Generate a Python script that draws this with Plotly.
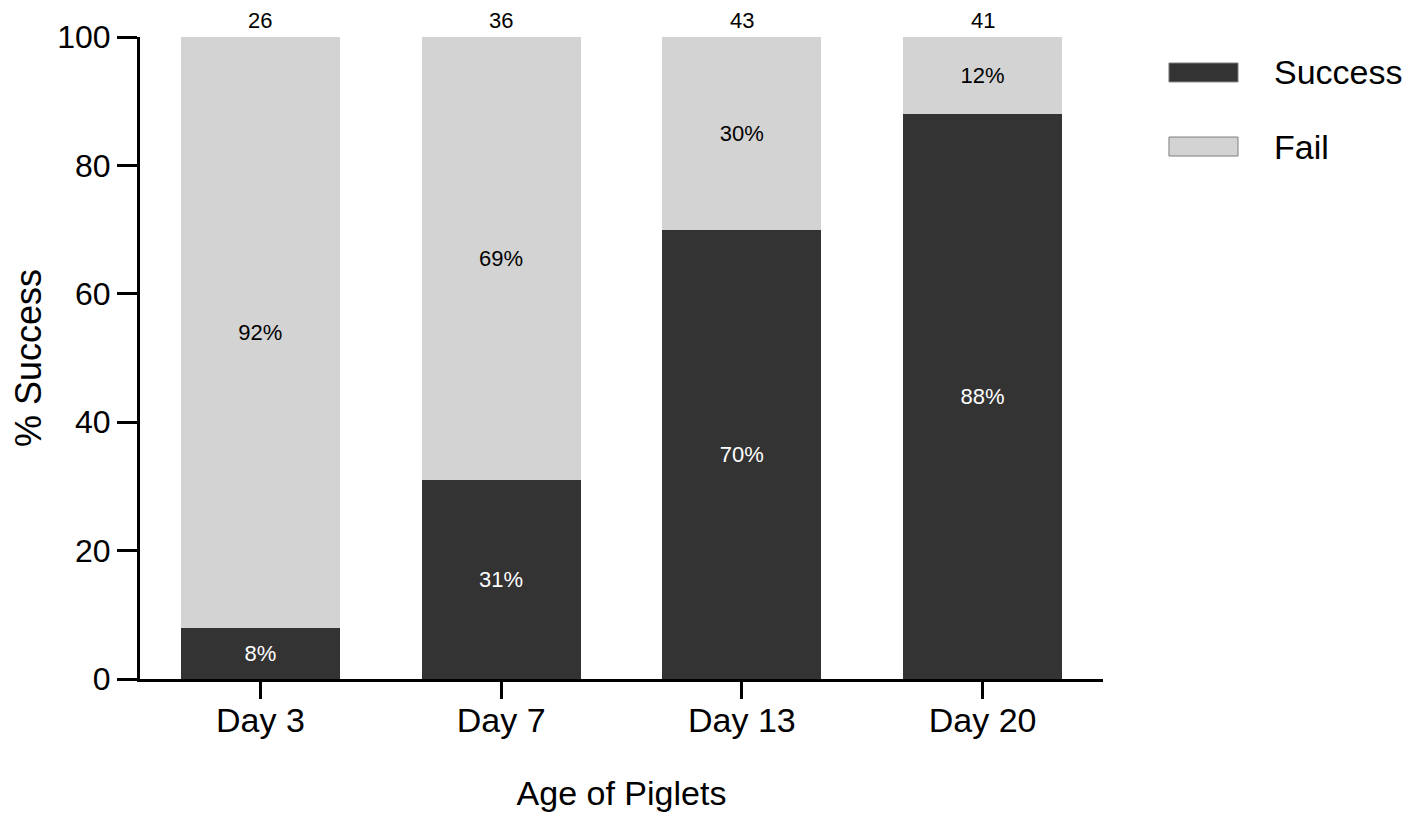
import plotly.graph_objects as go

days = ["Day 3", "Day 7", "Day 13", "Day 20"]
success = [8, 31, 70, 88]
fail = [92, 69, 30, 12]
n_piglets = [26, 36, 43, 41]

series_names = ["Success", "Fail"]
series_colors = ["#333333", "#d3d3d3"]
label_colors = ["white", "black"]

font_family = "Liberation Sans, Arial, sans-serif"

fig = go.Figure()

for name, vals, col, lcol in zip(series_names, [success, fail], series_colors, label_colors):
    fig.add_trace(go.Bar(x=days, y=vals, name=name, showlegend=False,
                         marker=dict(color=col, line=dict(width=0)),
                         text=[f"{v}%" for v in vals], textposition="inside",
                         insidetextanchor="middle", textangle=0,
                         textfont=dict(color=lcol, size=22, family=font_family)))

# sample sizes above each bar
for d, n in zip(days, n_piglets):
    fig.add_annotation(x=d, y=100, text=str(n), showarrow=False,
                       yanchor="bottom", yshift=2,
                       font=dict(size=22, color="black", family=font_family))

# legend drawn with wide swatches like the original figure
legend_rows = [(0.930, 0.9595), (0.8146, 0.8442)]
for name, col, (y0, y1) in zip(series_names, series_colors, legend_rows):
    fig.add_shape(type="rect", xref="paper", yref="paper",
                  x0=1.0685, x1=1.1402, y0=y0, y1=y1,
                  fillcolor=col, line=dict(color="#7f7f7f", width=1))
    fig.add_annotation(xref="paper", yref="paper", x=1.176, y=(y0 + y1) / 2,
                       text=name, showarrow=False, xanchor="left", yanchor="middle",
                       font=dict(size=34, color="black", family=font_family))

fig.update_layout(
    barmode="stack", bargap=0.34,
    width=1410, height=812,
    margin=dict(l=132, r=315, t=29, b=141),
    plot_bgcolor="white", paper_bgcolor="white",
    font=dict(family=font_family, color="black", size=28),
    xaxis=dict(title=dict(text="Age of Piglets", standoff=44, font=dict(size=34)),
               showline=True, linewidth=3, linecolor="black",
               ticks="outside", ticklen=17, tickwidth=3, tickcolor="black",
               ticklabelstandoff=-8,
               showgrid=False, tickfont=dict(size=34)),
    yaxis=dict(title=dict(text="% Success", standoff=12, font=dict(size=36)),
               range=[0, 100], tickvals=[0, 20, 40, 60, 80, 100],
               showline=True, linewidth=3, linecolor="black",
               ticks="outside", ticklen=20, tickwidth=3, tickcolor="black",
               showgrid=False, zeroline=False, tickfont=dict(size=32)),
)

fig.write_html("out.html")
